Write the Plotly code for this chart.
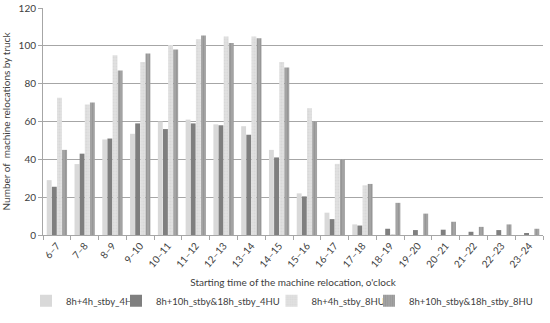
import plotly.graph_objects as go

FONT_FAMILY = "Lato, 'Open Sans', sans-serif"
TEXT_COL = "#404040"

hours = ["6–7", "7–8", "8–9", "9–10", "10–11", "11–12", "12–13", "13–14", "14–15",
         "15–16", "16–17", "17–18", "18–19", "19–20", "20–21", "21–22", "22–23", "23–24"]

s_4h_4hu = [29, 37.5, 50.5, 53.5, 60, 61, 58.5, 57.5, 45,
            22, 11.8, 5.6, 0, 0, 0, 0, 0, 0]
s_10h_4hu = [25.5, 43, 51, 59, 56, 59, 58, 53, 41,
             20.4, 8.4, 5, 3.3, 2.6, 2.8, 1.7, 2.6, 1]
s_4h_8hu = [72.5, 69, 95, 91.5, 100.5, 103.5, 105, 105, 91.5,
            67, 37.6, 26.3, 0.5, 0, 0, 0, 0, 0]
s_10h_8hu = [45, 70, 87, 96, 98, 105.5, 101.5, 104, 88.5,
             60, 40, 27, 17, 11.3, 7, 4.3, 5.6, 3.3]

series = [
    ("8h+4h_stby_4HU", s_4h_4hu, "#d9d9d9", ""),
    ("8h+10h_stby&18h_stby_4HU", s_10h_4hu, "#7f7f7f", ""),
    ("8h+4h_stby_8HU", s_4h_8hu, "#e0e0e0", "."),
    ("8h+10h_stby&18h_stby_8HU", s_10h_8hu, "#a3a3a3", "|"),
]

# one legend box per series so the four entries sit in a single row like the original
legend_pos = [(-0.034, "left"), (0.146, "left"), (0.457, "left"), (0.99, "right")]
legend_ids = ["legend", "legend2", "legend3", "legend4"]

fig = go.Figure()
for (name, vals, col, pat), lid in zip(series, legend_ids):
    marker = dict(color=col, line=dict(width=0))
    if pat:
        marker["pattern"] = dict(shape=pat, fgcolor="#cfcfcf" if pat == "." else "#8c8c8c",
                                 size=3, solidity=0.35)
    fig.add_trace(go.Bar(x=hours, y=vals, name=name, marker=marker, legend=lid))

legends = {}
for lid, (lx, anchor) in zip(legend_ids, legend_pos):
    legends[lid] = dict(orientation="h", x=lx, xanchor=anchor, y=-0.29, yanchor="middle",
                        font=dict(size=9.5), itemwidth=30, bgcolor="rgba(0,0,0,0)")

fig.update_layout(
    width=550, height=323,
    margin=dict(l=43, r=7, t=8, b=88),
    plot_bgcolor="white", paper_bgcolor="white",
    font=dict(family=FONT_FAMILY, size=10, color=TEXT_COL),
    barmode="group", bargap=0.26, bargroupgap=0.05,
    showlegend=True,
    **legends,
)
fig.update_xaxes(
    tickangle=-50, tickson="boundaries", ticks="outside", ticklen=4, tickcolor="#a6a6a6",
    showline=True, linecolor="#a6a6a6", showgrid=False, automargin=False,
    title=dict(text="Starting time of the machine relocation, o'clock", font=dict(size=10), standoff=10),
)
fig.update_yaxes(
    range=[0, 120], dtick=20, showgrid=True, gridcolor="#a6a6a6", gridwidth=1,
    showline=True, linecolor="#a6a6a6", ticks="outside", ticklen=4, tickcolor="#a6a6a6",
    zeroline=False, automargin=False,
    title=dict(text="Number of  machine relocations by truck", font=dict(size=10), standoff=6),
)

# drop the default 8px page margin so the figure sits at the window origin
fig.write_html("out.html", config={"displayModeBar": False},
               post_script="document.body.style.margin='0';")
